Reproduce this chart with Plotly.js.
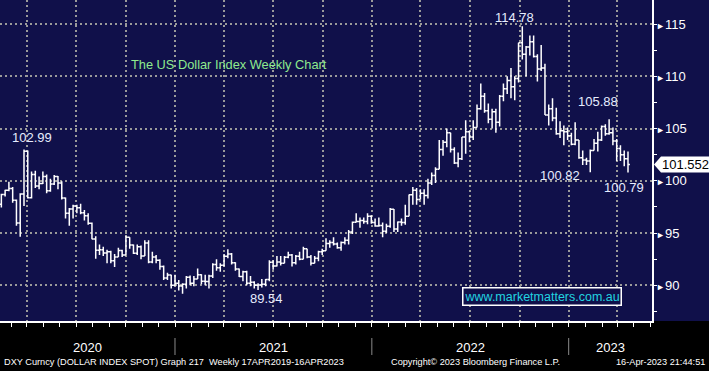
<!DOCTYPE html>
<html><head><meta charset="utf-8">
<script src="https://cdn.plot.ly/plotly-3.0.1.min.js"></script>
<style>html,body{margin:0;padding:0;background:#000;}#chart{width:709px;height:371px;}</style>
</head><body><div id="chart"></div>
<script>
// ---- data: DXY weekly OHLC, week ending Fridays ----
const firstWeek = '2020-02-07';
const open = [
97.75,98.69,99.09,99.26,98.13,95.97,98.74,102.82,98.37,100.6,
99.5,99.75,100.4,99.05,99.7,100.4,99.8,98.35,96.9,97.3,
97.6,97.43,96.95,96.65,95.95,94.44,93.35,93.4,93.1,93.2,
92.36,92.7,93.33,92.9,94.6,93.85,93.06,93.7,92.8,94.04,
92.23,92.7,92.4,91.8,90.7,90.98,90.0,90.2,89.94,90.1,
90.77,90.2,90.6,91.0,90.4,90.36,90.88,91.98,91.67,91.93,
92.77,93.0,92.15,91.56,90.85,91.3,90.2,90.3,90.0,90.03,
90.1,90.55,92.2,91.85,92.23,92.1,92.69,92.9,92.17,92.78,
92.5,93.5,92.7,92.1,92.6,93.2,93.3,94.0,94.1,93.96,
93.6,94.1,94.3,95.1,96.03,96.1,96.2,96.1,96.6,96.0,
95.67,95.73,95.17,95.64,97.27,95.4,96.05,96.0,96.6,98.66,
99.1,98.2,98.8,98.6,99.8,100.5,101.1,103.0,103.7,104.6,
103.0,101.7,102.1,104.2,104.7,104.2,105.1,106.9,108.1,106.7,
105.9,106.6,105.6,108.1,108.8,109.6,109.0,109.8,113.2,112.1,
112.8,113.3,111.9,110.7,110.8,106.3,106.9,106.0,104.5,104.8,
104.7,104.3,103.5,103.9,102.2,102.0,101.9,102.9,103.6,103.9,
105.2,104.5,104.6,103.8,103.1,102.5,102.1];
const high = [
98.75,99.15,99.91,99.4,98.2,98.8,102.99,102.9,100.9,100.95,
100.4,100.9,100.6,100.2,100.56,100.45,99.95,98.4,97.4,97.7,
97.7,97.8,97.2,96.9,96.0,94.7,93.9,93.7,93.4,93.3,
93.0,93.6,93.4,94.74,94.6,93.9,93.9,93.8,94.3,94.3,
93.2,92.9,92.5,91.9,91.2,91.0,91.0,90.5,90.2,90.9,
90.95,90.9,91.6,91.05,91.0,91.0,92.1,92.5,92.1,93.0,
93.44,93.1,92.2,91.6,91.4,91.4,90.9,90.4,90.2,90.6,
90.6,92.4,92.4,92.8,92.8,92.8,93.2,93.0,92.9,93.2,
93.7,93.5,92.9,92.8,93.3,93.5,94.5,94.3,94.6,94.1,
94.2,94.6,95.3,96.1,96.9,96.5,96.5,96.9,96.7,96.4,
96.5,96.0,95.9,97.4,97.3,96.1,96.4,97.7,98.7,99.4,
99.3,99.2,99.2,100.2,100.8,101.3,103.9,103.9,105.0,104.6,
103.2,102.7,104.2,105.8,104.8,105.8,107.3,109.3,108.4,107.4,
106.9,106.9,108.2,109.3,110.0,110.8,110.0,113.2,114.78,112.9,
113.9,113.9,112.1,113.0,111.2,107.3,107.9,107.0,105.7,105.3,
105.1,104.6,105.6,103.9,102.9,102.2,103.0,104.0,104.7,105.3,
105.4,105.88,105.1,104.0,103.4,102.9,102.8];
const low = [
97.45,98.5,99.0,97.9,95.7,94.65,97.6,98.3,98.3,99.3,
99.2,99.7,98.8,98.95,99.6,99.2,98.2,96.4,95.7,96.4,
96.9,96.8,96.2,95.8,94.4,92.55,92.9,92.8,92.1,92.1,
91.75,92.7,92.7,92.9,93.5,93.0,92.9,92.5,92.8,92.1,
92.1,92.1,91.5,90.5,90.5,89.7,89.9,89.5,89.2,89.7,
90.0,89.9,90.6,90.1,90.0,89.7,90.7,91.4,91.3,91.8,
92.6,92.0,91.4,90.8,90.4,90.0,89.9,89.7,89.54,89.8,
89.9,90.4,91.5,91.8,91.9,92.1,92.6,91.8,92.0,92.4,
92.5,92.6,91.9,92.1,92.3,92.9,93.3,93.6,93.8,93.5,
93.3,93.9,93.9,94.9,96.0,95.5,95.9,95.85,95.9,95.6,
95.6,94.6,95.0,95.5,95.1,95.1,95.7,95.8,96.6,97.7,
97.7,98.2,97.7,98.3,99.6,99.8,101.1,102.4,103.2,102.7,
101.6,101.3,102.0,102.6,103.7,103.9,105.1,106.8,106.5,105.5,
105.0,104.6,105.2,107.6,108.3,107.9,107.7,109.4,111.6,110.0,
112.0,111.8,109.5,110.5,106.3,105.3,105.7,104.4,104.1,103.4,
103.9,103.4,103.4,102.1,101.5,101.5,100.82,102.9,102.8,103.8,
104.3,104.4,103.4,101.9,101.9,101.4,100.79];
const close = [
98.69,99.09,99.26,98.13,95.97,98.74,102.82,98.37,100.6,99.5,
99.75,100.4,99.05,99.7,100.4,99.8,98.35,96.9,97.3,97.6,
97.43,96.95,96.65,95.95,94.44,93.35,93.4,93.1,93.2,92.36,
92.7,93.33,92.9,94.6,93.85,93.06,93.7,92.8,94.04,92.23,
92.7,92.4,91.8,90.7,90.98,90.0,90.2,89.94,90.1,90.77,
90.2,90.6,91.0,90.4,90.36,90.88,91.98,91.67,91.93,92.77,
93.0,92.15,91.56,90.85,91.3,90.2,90.3,90.0,90.03,90.1,
90.55,92.2,91.85,92.23,92.1,92.69,92.9,92.17,92.78,92.5,
93.5,92.7,92.1,92.6,93.2,93.3,94.0,94.1,93.96,93.6,
94.1,94.3,95.1,96.03,96.1,96.2,96.1,96.6,96.0,95.67,
95.73,95.17,95.64,97.27,95.4,96.05,96.0,96.6,98.66,99.1,
98.2,98.8,98.6,99.8,100.5,101.1,103.0,103.7,104.6,103.0,
101.7,102.1,104.2,104.7,104.2,105.1,106.9,108.1,106.7,105.9,
106.6,105.6,108.1,108.8,109.6,109.0,109.8,113.2,112.1,112.8,
113.3,111.9,110.7,110.8,106.3,106.9,106.0,104.5,104.8,104.7,
104.3,103.5,103.9,102.2,102.0,101.9,102.9,103.6,103.9,105.2,
104.5,104.6,103.8,103.1,102.5,102.1,101.552];
const yTicks = [90, 95, 100, 105, 110, 115];
const yearLabels = ['2020', '2021', '2022', '2023'];
const yearBreaks = ['2020-12-25', '2021-12-25', '2022-12-25'];
const labelWeeks = ['2020-03-20', '2022-09-30', '2021-05-28', '2023-03-10', '2023-02-03', '2023-04-14'];
const labelFields = ['high', 'high', 'low', 'high', 'low', 'low'];

// ---- derived ----
const DAY = 86400000;
const weeks = open.map((_, i) => new Date(Date.parse(firstWeek + 'T00:00:00Z') + i * 7 * DAY).toISOString().slice(0, 10));
const series = {open, high, low, close};

const xStart = '2020-02-04 12:00', xEnd = '2023-05-28 12:00';
const yRange = [86.585, 117.30];
const t0 = Date.parse('2020-02-04T12:00:00Z'), t1 = Date.parse('2023-05-28T12:00:00Z');
const toPaperX = d => (Date.parse(d + 'T00:00:00Z') - t0) / (t1 - t0);
const toPaperY = v => (v - yRange[0]) / (yRange[1] - yRange[0]);

const navy = '#10104a';
const grid = '#9a9a9a';
const labelColor = '#e6ecff';

// label offsets (style) in px
const labelShift = [[8, 12], [-7.5, 8.5], [8, -8.7], [-11.5, 17.5], [-30, -3.6], [-4, -15]];

const annotations = [];
labelWeeks.forEach((w, k) => {
  const i = weeks.indexOf(w);
  const v = series[labelFields[k]][i];
  annotations.push({xref: 'x', yref: 'y', x: weeks[i], y: v, text: v.toFixed(2), showarrow: false,
    xshift: labelShift[k][0], yshift: labelShift[k][1], font: {size: 13, color: labelColor}});
});

annotations.push({xref: 'paper', yref: 'paper', x: 129 / 652, y: 1 - 64 / 321, xanchor: 'left', yanchor: 'middle',
  text: 'The US Dollar Index Weekly Chart', showarrow: false, font: {size: 12.8, color: '#8eea8e'}});

annotations.push({xref: 'paper', yref: 'paper', x: 542 / 652, y: 1 - 296.5 / 321, xanchor: 'center', yanchor: 'middle',
  text: 'www.marketmatters.com.au', showarrow: false, font: {size: 12.5, color: '#22d4e0'},
  bordercolor: '#ffffff', borderwidth: 1.5, borderpad: 1, bgcolor: navy});

// last price tag
const last = close[close.length - 1];
annotations.push({xref: 'paper', yref: 'paper', x: 685 / 652, y: toPaperY(last), xanchor: 'center', yanchor: 'middle',
  text: last.toFixed(3), showarrow: false, font: {size: 13, color: '#000'}});

// year labels
const bounds = [0].concat(yearBreaks.map(toPaperX)).concat([1]);
yearLabels.forEach((t, k) => {
  annotations.push({xref: 'paper', yref: 'paper', x: (bounds[k] + bounds[k + 1]) / 2, y: -26 / 321,
    xanchor: 'center', yanchor: 'middle', text: t, showarrow: false, font: {size: 13, color: '#fff'}});
});

// footer
const footY = -41 / 321;
const footFont = {size: 9.2, color: '#fff'};
annotations.push({xref: 'paper', yref: 'paper', x: 2 / 652, y: footY, xanchor: 'left', yanchor: 'middle', showarrow: false,
  text: 'DXY Curncy (DOLLAR INDEX SPOT) Graph 217  Weekly 17APR2019-16APR2023', font: footFont});
annotations.push({xref: 'paper', yref: 'paper', x: 389 / 652, y: footY, xanchor: 'left', yanchor: 'middle', showarrow: false,
  text: 'Copyright© 2023 Bloomberg Finance L.P.', font: footFont});
annotations.push({xref: 'paper', yref: 'paper', x: 707 / 652, y: footY, xanchor: 'right', yanchor: 'middle', showarrow: false,
  text: '16-Apr-2023 21:44:51', font: footFont});

const shapes = [
  {type: 'rect', xref: 'paper', yref: 'paper', x0: 1, x1: 1.1, y0: 0, y1: 1, fillcolor: navy, line: {width: 0}, layer: 'below'},
  {type: 'path', xref: 'paper', yref: 'paper', xsizemode: 'pixel', ysizemode: 'pixel', xanchor: 1, yanchor: toPaperY(last),
   path: 'M2,0 L9,8 L57,8 L57,-8 L9,-8 Z', fillcolor: '#ffffff', line: {width: 0}, layer: 'above'}
];
yearBreaks.forEach(d => {
  const px = toPaperX(d);
  shapes.push({type: 'line', xref: 'paper', yref: 'paper', x0: px, x1: px, y0: -17 / 321, y1: -34 / 321,
    line: {color: '#8a8a8a', width: 1}});
});

const trace = {
  type: 'ohlc', x: weeks, open, high, low, close,
  increasing: {line: {color: '#ffffff', width: 1.5}},
  decreasing: {line: {color: '#ffffff', width: 1.5}},
  tickwidth: 0.5, hoverinfo: 'skip'
};

const layout = {
  width: 709, height: 371,
  margin: {l: 0, r: 57, t: 0, b: 50, pad: 0},
  paper_bgcolor: '#000000', plot_bgcolor: navy,
  showlegend: false,
  font: {family: 'Liberation Sans, Arial, sans-serif', color: '#ffffff', size: 13},
  xaxis: {
    type: 'date', range: [xStart, xEnd], rangeslider: {visible: false}, fixedrange: true,
    showline: true, linecolor: '#ffffff', linewidth: 1.5,
    ticks: 'outside', ticklen: 4, tickcolor: '#ffffff', tickwidth: 1,
    tick0: '2020-03-25', dtick: 'M3', showticklabels: false,
    showgrid: true, gridcolor: grid, gridwidth: 2, griddash: '2px,3px', zeroline: false,
    minor: {dtick: 'M1', tick0: '2020-01-25', ticks: 'outside', ticklen: 4, tickcolor: '#ffffff', tickwidth: 1, showgrid: false}
  },
  yaxis: {
    side: 'right', range: yRange, fixedrange: true,
    tickmode: 'array', tickvals: yTicks, ticktext: yTicks.map(v => '<span style="font-size:9px">►</span>' + v),
    ticks: '', showline: true, linecolor: '#ffffff', linewidth: 1.5,
    showgrid: true, gridcolor: grid, gridwidth: 2, griddash: '2px,3px', zeroline: false,
    tickfont: {size: 13, color: '#ffffff'},
    minor: {dtick: 2.5, tick0: 0, ticks: 'outside', ticklen: 3, tickcolor: '#ffffff', tickwidth: 1, showgrid: false}
  },
  shapes, annotations
};

Plotly.newPlot('chart', [trace], layout, {staticPlot: true, displayModeBar: false});
</script>
</body></html>
